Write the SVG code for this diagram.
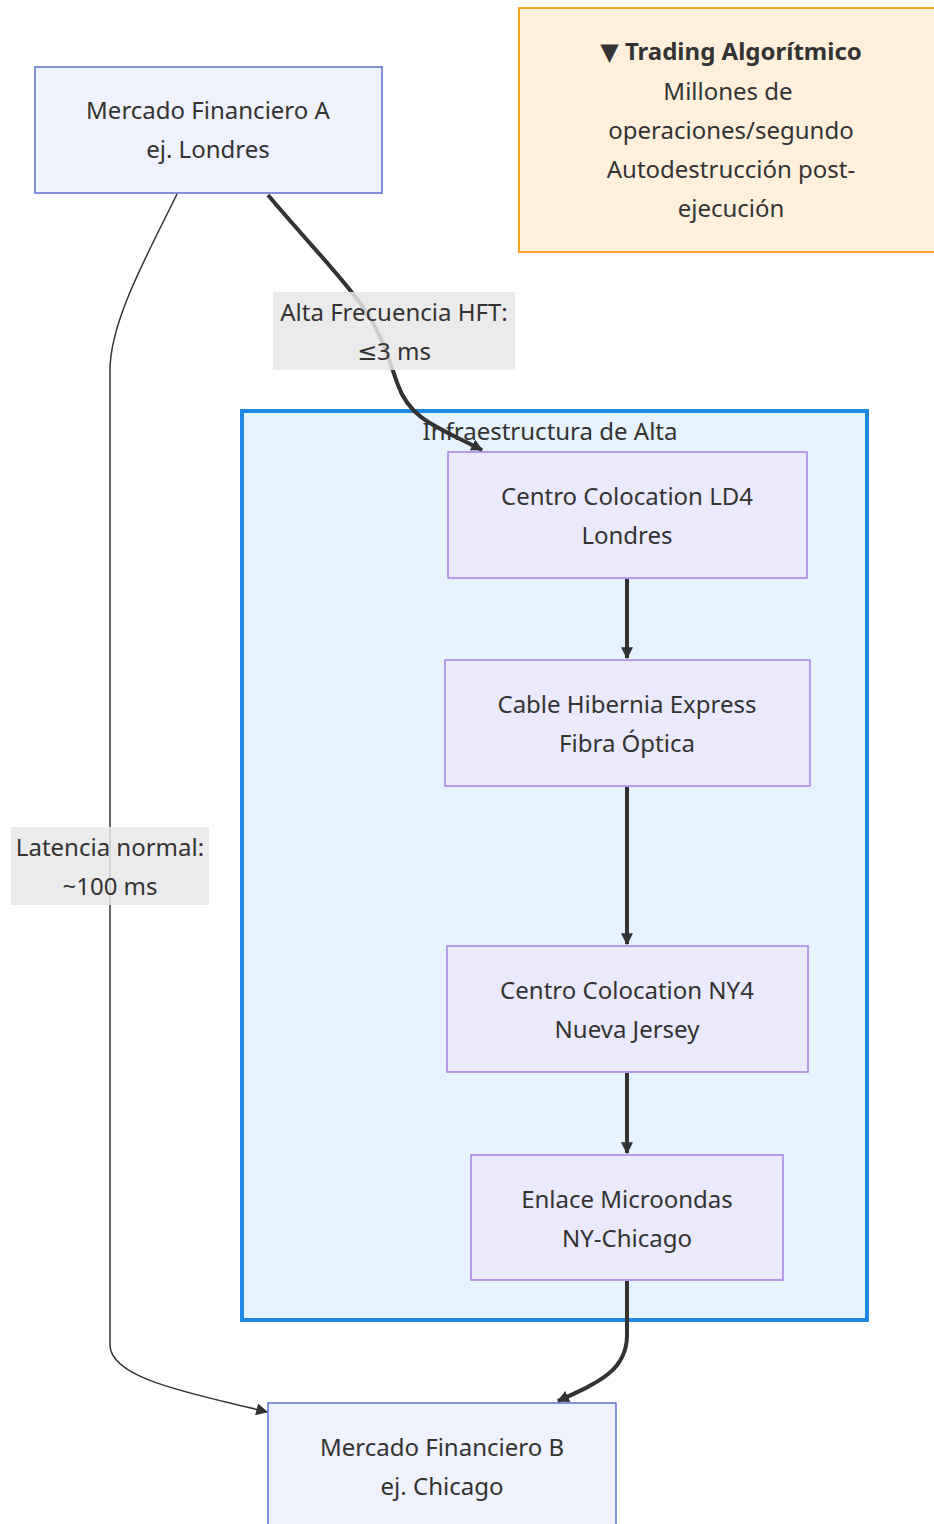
<svg xmlns="http://www.w3.org/2000/svg" width="934" height="1524" viewBox="0 0 934 1524">
<defs>
<style>
text{font-family:"Noto Sans","DejaVu Sans",sans-serif;font-size:24px;fill:#333;text-anchor:middle;dominant-baseline:central}
.m{fill:#eff1fc;stroke:#5d6fd0;stroke-width:1.5}
.p{fill:#ebe9fc;stroke:#a481e3;stroke-width:1.5}
.e{fill:none;stroke:#333;stroke-width:4}
.t{fill:none;stroke:#333;stroke-width:1.5}
.lb{fill:#e8e8e8;opacity:0.85}
</style>
<marker id="ah" viewBox="0 0 10 10" refX="9" refY="5" markerWidth="12" markerHeight="12" orient="auto" markerUnits="userSpaceOnUse"><path d="M0,0L10,5L0,10z" fill="#333"/></marker>
</defs>
<rect width="934" height="1524" fill="#fff"/>
<g id="note">
<rect x="519" y="8" width="420" height="244" fill="#fff0dc" stroke="#f5a623" stroke-width="2"/>
<text x="731" y="50" font-weight="bold">▼ Trading Algorítmico</text>
<text x="728" y="90">Millones de</text>
<text x="731" y="129">operaciones/segundo</text>
<text x="731" y="168">Autodestrucción post-</text>
<text x="731" y="207">ejecución</text>
</g>
<g id="cluster">
<rect x="242" y="411" width="625" height="909" fill="#e6f2fd" stroke="#1e88e5" stroke-width="4"/>
<text x="550" y="430">Infraestructura de Alta</text>
</g>
<g id="edges">
<path class="e" d="M268,195 C310,245 345,280 365,310 C385,340 392,370 398,385 C410,420 440,428 482,450" marker-end="url(#ah)"/>
<path class="t" d="M177,194 C150,250 110,320 110,370 L110,1345 C110,1380 200,1395 267,1412" marker-end="url(#ah)"/>
<path class="e" d="M627,579 L627,658" marker-end="url(#ah)"/>
<path class="e" d="M627,787 L627,944" marker-end="url(#ah)"/>
<path class="e" d="M627,1073 L627,1153" marker-end="url(#ah)"/>
<path class="e" d="M627,1281 L627,1335 C627,1370 600,1382 558,1401" marker-end="url(#ah)"/>
</g>
<g id="label-hft">
<rect class="lb" x="273" y="292" width="242" height="78"/>
<text x="394" y="311">Alta Frecuencia HFT:</text>
<text x="394" y="350">≤3 ms</text>
</g>
<g id="label-normal">
<rect class="lb" x="11" y="827" width="198" height="78"/>
<text x="110" y="846">Latencia normal:</text>
<text x="110" y="885">~100 ms</text>
</g>
<g id="nodeA">
<rect class="m" x="35" y="67" width="347" height="126"/>
<text x="208" y="109">Mercado Financiero A</text>
<text x="208" y="148">ej. Londres</text>
</g>
<g id="ld4">
<rect class="p" x="448" y="452" width="359" height="126"/>
<text x="627" y="495">Centro Colocation LD4</text>
<text x="627" y="534">Londres</text>
</g>
<g id="hibernia">
<rect class="p" x="445" y="660" width="365" height="126"/>
<text x="627" y="703">Cable Hibernia Express</text>
<text x="627" y="742">Fibra Óptica</text>
</g>
<g id="ny4">
<rect class="p" x="447" y="946" width="361" height="126"/>
<text x="627" y="989">Centro Colocation NY4</text>
<text x="627" y="1028">Nueva Jersey</text>
</g>
<g id="micro">
<rect class="p" x="471" y="1155" width="312" height="125"/>
<text x="627" y="1198">Enlace Microondas</text>
<text x="627" y="1237">NY-Chicago</text>
</g>
<g id="nodeB">
<rect class="m" x="268" y="1403" width="348" height="130"/>
<text x="442" y="1446">Mercado Financiero B</text>
<text x="442" y="1485">ej. Chicago</text>
</g>
</svg>
